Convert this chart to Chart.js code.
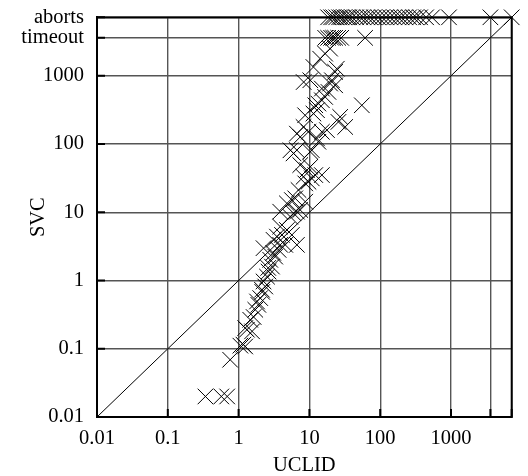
<!DOCTYPE html>
<html><head><meta charset="utf-8">
<script src="https://cdn.jsdelivr.net/npm/chart.js@4"></script>
<style>html,body{margin:0;padding:0;background:#fff}#wrap{width:528px;height:476px}</style>
</head><body><div id="wrap"><canvas id="c" width="528" height="476"></canvas></div>
<script>
const TIMEOUT = 3600;
const ABORT = 7200;
const axisTickValues = [0.01, 0.1, 1, 10, 100, 1000, 3600, 7200];
const xTickLabels = ['0.01', '0.1', '1', '10', '100', '1000', '', ''];
const yTickLabels = ['0.01', '0.1', '1', '10', '100', '1000', 'timeout', 'aborts'];

// both tools finished: UCLID time (x), SVC time (y)
const uclidTimes = [19.6, 16.7, 14.2, 11.4, 24.4, 10.3, 20.8, 23.1, 19.6, 23.1,
  18.6, 16.7, 15.0, 13.4, 12.1, 55, 12.8, 11.4, 27.2, 32,
  8.26, 9.71, 15.0, 17.7, 12.8, 7.42, 13.4, 6.66, 10.8, 5.97,
  10.3, 7.42, 9.22, 10.3, 8.26, 10.8, 12.1, 15.0, 8.73, 9.71,
  7.02, 4.81, 5.66, 6.31, 8.73, 3.87, 5.36, 5.97, 6.66, 7.42,
  3.87, 4.81, 5.66, 4.10, 3.48, 3.12, 2.25, 3.87, 4.56, 6.66,
  3.67, 3.29, 3.09, 2.80, 2.96, 2.65, 2.52, 2.25, 2.38, 2.14,
  2.02, 1.82, 1.72, 1.63, 1.46, 1.24, 1.06, 1.24, 0.76, 0.34,
  0.57, 0.69, 1.31, 1.55, 1.17, 1.90, 2.16, 2.62, 5.4, 6.66,
  8.7, 15.0, 8.3, 25.7];
const svcTimes = [2500, 2110, 1780, 1345, 1270, 860, 860, 1140, 770, 726,
  580, 490, 438, 392, 370, 370, 313, 280, 250, 178,
  178, 151, 151, 160, 121, 127, 108, 81.4, 81.4, 72.9,
  76.9, 49.2, 41.5, 46.4, 33.1, 31.4, 35.1, 35.1, 26.5, 28.0,
  21.2, 13.5, 15.1, 16.0, 14.3, 10.2, 8.62, 9.67, 10.2, 10.8,
  6.16, 5.51, 4.66, 4.66, 4.40, 3.94, 2.98, 3.33, 3.33, 3.33,
  2.81, 2.24, 2.54, 2.01, 1.60, 1.35, 1.14, 0.97, 0.817, 0.731,
  0.553, 0.493, 0.373, 0.292, 0.266, 0.201, 0.111, 0.108, 0.069, 0.02,
  0.02, 0.02, 0.19, 0.18, 0.115, 0.44, 0.68, 1.53, 81, 142,
  264, 650, 810, 211];
// SVC timed out
const timeoutUclid = [16.7, 18.4, 20.3, 21.7, 23.1, 25.5, 28.1, 61.2];
// SVC aborted
const abortUclid = [18.4, 20.3, 21.7, 23.9, 26.3, 28.1, 31.0, 34.1, 36.4, 40.2,
  45.7, 52.1, 57.4, 65.3, 72.1, 82.0, 93.5, 106, 121, 138,
  157, 179, 198, 225, 256, 292, 322, 366, 445, 540,
  937, 3600, 7200];
const diagonal = [0.01, 7200];

const points = uclidTimes.map((x, i) => ({x: x, y: svcTimes[i]}))
  .concat(timeoutUclid.map(x => ({x: x, y: TIMEOUT})))
  .concat(abortUclid.map(x => ({x: x, y: ABORT})));

const FONT = {family: 'Liberation Serif', size: 20.5};
const TITLE_FONT = {family: 'Liberation Serif', size: 20.5, lineHeight: 1};

const framePlugin = {
  id: 'frame',
  afterDatasetsDraw(chart) {
    const {ctx, chartArea: a, scales} = chart;
    ctx.save();
    ctx.strokeStyle = '#000';
    ctx.lineWidth = 2;
    ctx.beginPath();
    axisTickValues.forEach(v => {
      const y = scales.y.getPixelForValue(v);
      ctx.moveTo(a.left, y); ctx.lineTo(a.left + 8, y);
      const x = scales.x.getPixelForValue(v);
      ctx.moveTo(x, a.bottom); ctx.lineTo(x, a.bottom - 8);
    });
    ctx.stroke();
    ctx.strokeRect(a.left, a.top, a.right - a.left, a.bottom - a.top);
    ctx.restore();
  }
};

new Chart(document.getElementById('c'), {
  type: 'scatter',
  data: {
    datasets: [{
      data: points,
      pointStyle: 'crossRot',
      pointRadius: 11,
      pointHoverRadius: 11,
      borderColor: '#000',
      backgroundColor: '#000',
      borderWidth: 1,
      clip: false
    }, {
      type: 'line',
      data: diagonal.map(v => ({x: v, y: v})),
      borderColor: '#000',
      borderWidth: 1,
      pointRadius: 0,
      fill: false
    }]
  },
  options: {
    responsive: false,
    animation: false,
    devicePixelRatio: 1,
    layout: {padding: {left: 0, right: 16.3, top: 17.3, bottom: 0}},
    plugins: {legend: {display: false}, tooltip: {enabled: false}},
    scales: {
      x: {
        type: 'logarithmic', min: 0.01, max: 7200,
        afterBuildTicks: s => { s.ticks = axisTickValues.map(v => ({value: v})); },
        afterFit: s => { s.height = 59; s.paddingLeft = 0; s.paddingRight = 0; },
        ticks: {callback: (v, i) => xTickLabels[i], autoSkip: false, maxRotation: 0, color: '#000', font: FONT, padding: 9},
        grid: {color: '#555', lineWidth: 1.4, drawTicks: false},
        border: {display: true, color: '#000', width: 2},
        title: {display: true, text: 'UCLID', color: '#000', font: TITLE_FONT, padding: {top: 0, bottom: 0}}
      },
      y: {
        type: 'logarithmic', min: 0.01, max: 7200,
        afterBuildTicks: s => { s.ticks = axisTickValues.map(v => ({value: v})); },
        afterFit: s => { s.width = 97; s.paddingTop = 0; s.paddingBottom = 0; },
        ticks: {callback: (v, i) => yTickLabels[i], autoSkip: false, color: '#000', font: FONT, padding: 13},
        grid: {color: '#555', lineWidth: 1.4, drawTicks: false},
        border: {display: true, color: '#000', width: 2},
        title: {display: true, text: 'SVC', color: '#000', font: TITLE_FONT, padding: {top: 28, bottom: 0}}
      }
    }
  },
  plugins: [framePlugin]
});
</script>
</body></html>
